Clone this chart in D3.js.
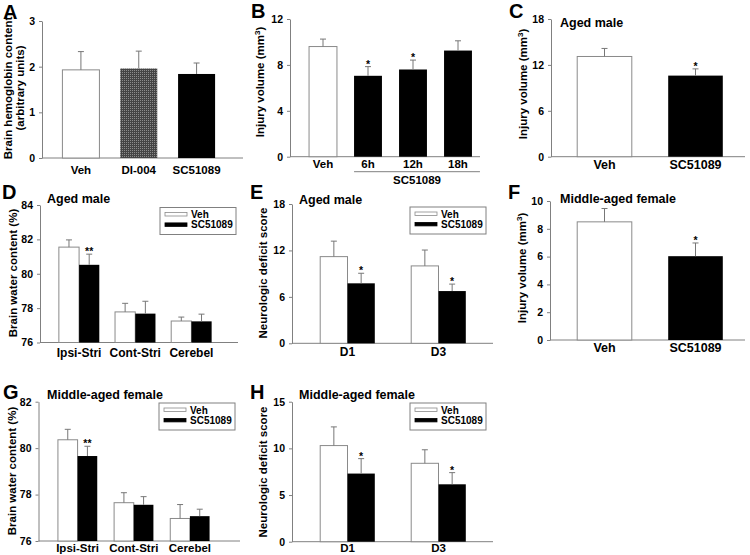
<!DOCTYPE html>
<html><head><meta charset="utf-8">
<script src="https://cdn.jsdelivr.net/npm/d3@7"></script>
<style>
body{margin:0;background:#fff;}
svg{display:block;}
text{font-family:"Liberation Sans",Arial,sans-serif;font-weight:bold;fill:#000;}
</style></head>
<body><svg id="c" width="750" height="555"></svg>
<script>
// ---------- DATA ----------
const seriesNames = ["Veh", "SC51089"];
// Panel A
const aCats = ["Veh", "DI-004", "SC51089"];
const aVals = [1.93, 1.96, 1.84];
const aErr  = [0.40, 0.38, 0.24];
const aTicks = [0, 1, 2, 3];
// Panel B
const bCats = ["Veh", "6h", "12h", "18h"];
const bVals = [9.6, 7.05, 7.6, 9.25];
const bErr  = [0.65, 0.8, 0.82, 0.85];
const bStars = ["", "*", "*", ""];
const bTicks = [0, 4, 8, 12];
// Panel C
const cCats = ["Veh", "SC51089"];
const cVals = [13.1, 10.6];
const cErr  = [1.05, 0.88];
const cStars = ["", "*"];
const cTicks = [0, 6, 12, 18];
// Panel D
const dGroups = ["Ipsi-Stri", "Cont-Stri", "Cerebel"];
const dVeh    = [81.55, 77.78, 77.25];
const dVehErr = [0.42, 0.5, 0.23];
const dSC     = [80.52, 77.68, 77.23];
const dSCErr  = [0.62, 0.72, 0.42];
const dStars  = ["**", "", ""];
const dTicks  = [76, 78, 80, 82, 84];
// Panel E
const eGroups = ["D1", "D3"];
const eVeh    = [11.2, 10.0];
const eVehErr = [2.0, 2.05];
const eSC     = [7.75, 6.75];
const eSCErr  = [1.3, 0.9];
const eStars  = ["*", "*"];
const eTicks  = [0, 6, 12, 18];
// Panel F
const fCats = ["Veh", "SC51089"];
const fVals = [8.5, 6.03];
const fErr  = [0.96, 0.95];
const fStars = ["", "*"];
const fTicks = [0, 2, 4, 6, 8, 10];
// Panel G
const gGroups = ["Ipsi-Stri", "Cont-Stri", "Cerebel"];
const gVeh    = [80.36, 77.65, 76.97];
const gVehErr = [0.45, 0.43, 0.6];
const gSC     = [79.66, 77.56, 77.07];
const gSCErr  = [0.42, 0.35, 0.3];
const gStars  = ["**", "", ""];
const gTicks  = [76, 78, 80, 82];
// Panel H
const hGroups = ["D1", "D3"];
const hVeh    = [10.3, 8.4];
const hVehErr = [2.0, 1.45];
const hSC     = [7.3, 6.15];
const hSCErr  = [1.6, 1.25];
const hStars  = ["*", "*"];
const hTicks  = [0, 5, 10, 15];

// ---------- DRAWING ----------
const svg = d3.select("#c");
svg.append("rect").attr("width",750).attr("height",555).attr("fill","#fff");
const defs = svg.append("defs");
const pat = defs.append("pattern").attr("id","hatch").attr("width",2).attr("height",2).attr("patternUnits","userSpaceOnUse");
pat.append("rect").attr("width",2).attr("height",2).attr("fill","#444");
pat.append("rect").attr("width",1).attr("height",1).attr("fill","#8c8c8c");

const AX = "#808080", ERR = "#777", OUT = "#8a8a8a";

function frame(cfg) {
  const g = svg.append("g");
  const y = d3.scaleLinear().domain(cfg.ydom).range([cfg.yb, cfg.yt]);
  const axis = d3.axisLeft(y).tickValues(cfg.ticks).tickFormat(d3.format("d"))
    .tickSize(3).tickSizeOuter(0).tickPadding(4);
  const ag = g.append("g").attr("transform", `translate(${cfg.ax0},0)`).call(axis);
  ag.select(".domain").attr("stroke", AX);
  ag.selectAll(".tick line").attr("stroke", AX);
  ag.selectAll(".tick text").attr("font-size", cfg.tickFs || 10.5).style("font-family", '"Liberation Sans",Arial,sans-serif').style("font-weight","bold").attr("fill","#000");
  g.append("line").attr("x1", cfg.ax0).attr("x2", cfg.ax1)
    .attr("y1", y(cfg.ydom[0])).attr("y2", y(cfg.ydom[0])).attr("stroke", AX);
  g.append("text").attr("x", cfg.letter[1]).attr("y", cfg.letter[2]).attr("font-size", 20).text(cfg.letter[0]);
  if (cfg.title) g.append("text").attr("x", cfg.title[1]).attr("y", cfg.title[2]).attr("font-size", cfg.title[3] || 12.5).text(cfg.title[0]);
  cfg.ylab.forEach((L) => {
    const t = g.append("text").attr("transform", `translate(${L.x},${cfg.ylabY}) rotate(-90)`)
      .attr("text-anchor","middle").attr("font-size", cfg.ylabFs || 11.5);
    if (L.sup) {
      t.append("tspan").text(L.text);
      t.append("tspan").attr("font-size", 8).attr("dy", -4).text(L.sup);
      t.append("tspan").attr("dy", 4).text(L.after);
    } else t.text(L.text);
  });
  return {g, y};
}

function errBar(g, cx, yTop, yErr, star, fs) {
  g.append("line").attr("x1", cx).attr("x2", cx).attr("y1", yTop).attr("y2", yErr).attr("stroke", ERR);
  g.append("line").attr("x1", cx - 3).attr("x2", cx + 3).attr("y1", yErr).attr("y2", yErr).attr("stroke", ERR);
  if (star) g.append("text").attr("x", cx).attr("y", yErr + 1).attr("text-anchor","middle").attr("font-size", fs || 10.5).text(star);
}

function simplePanel(cfg, cats, vals, errs, fills, stars) {
  const {g, y} = frame(cfg);
  const x = d3.scaleBand().domain(cats).range(cfg.band).paddingInner(cfg.pad).paddingOuter(cfg.pad / 2);
  cats.forEach((c, i) => {
    g.append("rect").attr("x", x(c)).attr("width", x.bandwidth())
      .attr("y", y(vals[i])).attr("height", y(cfg.ydom[0]) - y(vals[i]))
      .attr("fill", fills[i]).attr("stroke", fills[i] === "white" ? OUT : "none");
    errBar(g, x(c) + x.bandwidth() / 2, y(vals[i]), y(vals[i] + errs[i]), stars ? stars[i] : "");
    g.append("text").attr("x", x(c) + x.bandwidth() / 2).attr("y", y(cfg.ydom[0]) + cfg.xlabDy)
      .attr("text-anchor","middle").attr("font-size", cfg.xlabFs || 11.5).text(c);
  });
  return {g, x, y};
}

function legend(g, bx, by) {
  const w = 76, h = 27;
  g.append("rect").attr("x", bx).attr("y", by).attr("width", w).attr("height", h)
    .attr("fill","white").attr("stroke", AX).attr("stroke-width", 1);
  const fills = ["white", "black"];
  seriesNames.forEach((s, i) => {
    g.append("rect").attr("x", bx + 5).attr("y", by + 5 + i * 10.4).attr("width", 22).attr("height", 3.5)
      .attr("fill", fills[i]).attr("stroke", i === 0 ? OUT : "black").attr("stroke-width", 0.8);
    g.append("text").attr("x", bx + 31).attr("y", by + 10.5 + i * 10.4).attr("font-size", 10).text(s);
  });
}

function groupedPanel(cfg, groups, veh, vehErr, sc, scErr, stars) {
  const {g, y} = frame(cfg);
  const x = d3.scaleBand().domain(groups).range(cfg.band).paddingInner(cfg.pad).paddingOuter(cfg.pad / 2);
  const xs = d3.scaleBand().domain(seriesNames).range([0, x.bandwidth()]);
  const fills = ["white", "black"];
  groups.forEach((grp, i) => {
    const vals = [veh[i], sc[i]], errs = [vehErr[i], scErr[i]];
    seriesNames.forEach((s, j) => {
      const bx = x(grp) + xs(s);
      g.append("rect").attr("x", bx).attr("width", xs.bandwidth())
        .attr("y", y(vals[j])).attr("height", y(cfg.ydom[0]) - y(vals[j]))
        .attr("fill", fills[j]).attr("stroke", j === 0 ? OUT : "none");
      errBar(g, bx + xs.bandwidth() / 2, y(vals[j]), y(vals[j] + errs[j]), j === 1 ? stars[i] : "");
    });
    g.append("text").attr("x", x(grp) + x.bandwidth() / 2).attr("y", y(cfg.ydom[0]) + cfg.xlabDy)
      .attr("text-anchor","middle").attr("font-size", cfg.xlabFs || 12).text(grp);
  });
  legend(g, cfg.legend[0], cfg.legend[1]);
}

// Panel A
simplePanel({ydom:[0,3], ticks:aTicks, yb:158, yt:21, ax0:42, ax1:243, band:[52,225.5], pad:0.36,
  xlabDy:16, letter:["A",3,19],
  ylab:[{x:12,text:"Brain hemoglobin content"},{x:24,text:"(arbitrary units)"}], ylabY:88},
  aCats, aVals, aErr, ["white","url(#hatch)","black"], null);

// Panel B
const pb = simplePanel({ydom:[0,12], ticks:bTicks, yb:156.7, yt:19, ax0:290, ax1:480, band:[300.5,480.5], pad:0.38,
  xlabDy:11.5, letter:["B",251,18], xlabFs:11.5,
  ylab:[{x:264,text:"Injury volume (mm",sup:"3",after:")"}], ylabY:82},
  bCats, bVals, bErr, ["white","black","black","black"], bStars);
{
  const x = pb.x, y = pb.y;
  const x0 = x("6h"), x1 = x("18h") + x.bandwidth() + 8;
  const ly = y(0) + 15;
  pb.g.append("line").attr("x1", x0).attr("x2", x1).attr("y1", ly).attr("y2", ly).attr("stroke", AX);
  pb.g.append("text").attr("x", (x0 + x1) / 2).attr("y", ly + 12).attr("text-anchor","middle").attr("font-size", 11.5).text("SC51089");
}

// Panel C
simplePanel({ydom:[0,18], ticks:cTicks, yb:156.7, yt:19, ax0:551, ax1:745, band:[559,741], pad:0.4,
  xlabDy:12.5, xlabFs:12.5, letter:["C",509,18], title:["Aged male",560,27,12.5],
  ylab:[{x:527,text:"Injury volume (mm",sup:"3",after:")"}], ylabY:84},
  cCats, cVals, cErr, ["white","black"], cStars);

// Panel D
groupedPanel({ydom:[76,84], ticks:dTicks, yb:342.5, yt:205, ax0:40, ax1:238, band:[51,219.5], pad:0.28,
  xlabDy:14, letter:["D",2,199], title:["Aged male",47,203],
  ylab:[{x:17,text:"Brain water content (%)"}], ylabY:273, legend:[160,207.5]},
  dGroups, dVeh, dVehErr, dSC, dSCErr, dStars);

// Panel E
groupedPanel({ydom:[0,18], ticks:eTicks, yb:343.3, yt:204, ax0:292, ax1:493, band:[302,484], pad:0.4,
  xlabDy:13, letter:["E",250,199], title:["Aged male",299,204],
  ylab:[{x:267,text:"Neurologic deficit score"}], ylabY:273, legend:[410,207]},
  eGroups, eVeh, eVehErr, eSC, eSCErr, eStars);

// Panel F
simplePanel({ydom:[0,10], ticks:fTicks, yb:340, yt:201, ax0:550, ax1:745, band:[559,741], pad:0.4,
  xlabDy:12, xlabFs:12.5, letter:["F",508,199], title:["Middle-aged female",560,203],
  ylab:[{x:526,text:"Injury volume (mm",sup:"3",after:")"}], ylabY:268},
  fCats, fVals, fErr, ["white","black"], fStars);

// Panel G
groupedPanel({ydom:[76,82], ticks:gTicks, yb:541, yt:401.7, ax0:38.5, ax1:240, band:[49.5,218], pad:0.3,
  xlabDy:10.5, xlabFs:11.5, letter:["G",3,399], title:["Middle-aged female",47,399],
  ylab:[{x:16,text:"Brain water content (%)"}], ylabY:471, legend:[159,403]},
  gGroups, gVeh, gVehErr, gSC, gSCErr, gStars);

// Panel H
groupedPanel({ydom:[0,15], ticks:hTicks, yb:541.7, yt:401.7, ax0:292, ax1:493, band:[302,484], pad:0.4,
  xlabDy:10, xlabFs:11.5, letter:["H",250,399], title:["Middle-aged female",299,399],
  ylab:[{x:267,text:"Neurologic deficit score"}], ylabY:472, legend:[410,403]},
  hGroups, hVeh, hVehErr, hSC, hSCErr, hStars);
</script></body></html>
